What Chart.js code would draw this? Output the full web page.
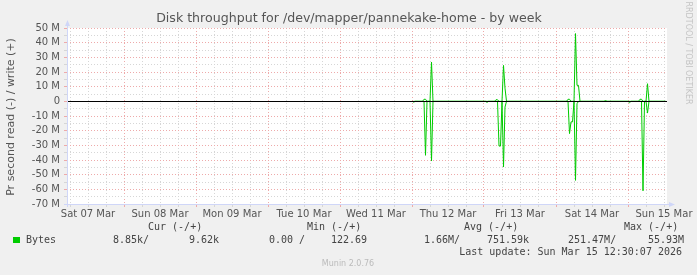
<!DOCTYPE html>
<html>
<head>
<meta charset="utf-8">
<script src="https://cdn.jsdelivr.net/npm/chart.js@4.4.1/dist/chart.umd.min.js"></script>
<style>
html, body { margin: 0; padding: 0; background: #f0f0f0; }
canvas { display: block; }
</style>
</head>
<body>
<canvas id="diskChart" width="697" height="275"></canvas>
<script>
// hours since Sat 07 Mar 00:00, values in MB/s (read drawn negative)
const hours = [120.5, 121, 123.5, 124, 124.5, 125, 126, 126.5, 127,
    144.5, 145, 145.5, 147.5, 148, 148.5, 149, 149.5, 150, 150.5, 151, 151.5,
    171.5, 172, 172.5, 173, 173.5, 174, 174.5, 175, 175.5, 176,
    184, 184.5, 185, 192, 192.5, 193, 195.5, 196, 196.5, 197, 197.5, 198, 198.5, 199, 204.5];
const readMB = [-0.8, 0, 0, 0, -36.8, 0, 0, -40.7, 0,
    0, -0.7, 0, 0, 0, 0, -30.5, -30.5, 0, -44.8, -3.9, 0,
    0, 0, -22, -14, -14, 0, -53.9, -1.6, 0, 0,
    0, 0, 0, 0, -0.9, 0, 0, 0, 0, -61, 0, 0, -8, 0, 0];
const writeMB = [0, 0, 0, 1.4, 1.4, 0, 0, 26.8, 0,
    0, 0, 0, 0, 1.1, 1.1, 0, 0, 0, 24.5, 9, 0,
    0, 1.4, 1.4, 0, 0, 0, 46.2, 10.9, 10.9, 0,
    0, 0.5, 0, 0, 0, 0, 0, 1.4, 1.4, 0, 0, 0, 12, 0, 0];

const dayLabels = ['Sat 07 Mar', 'Sun 08 Mar', 'Mon 09 Mar', 'Tue 10 Mar', 'Wed 11 Mar',
    'Thu 12 Mar', 'Fri 13 Mar', 'Sat 14 Mar', 'Sun 15 Mar'];

const legendHeads = ['Cur (-/+)', 'Min (-/+)', 'Avg (-/+)', 'Max (-/+)'];
const legendValues = ['8.85k/', '9.62k', '0.00 /', '122.69', '1.66M/', '751.59k', '251.47M/', '55.93M'];

const MGRID = '#eeaaaa';
const GRID = '#d6d6d6';
const FONT = '#555555';
const AXIS = '#cfd6f8';

const toPoints = vals => hours.map((h, i) => ({ x: h, y: vals[i] }));

const muninDecor = {
    id: 'muninDecor',
    beforeDraw(chart) {
        const ctx = chart.ctx;
        const a = chart.chartArea;
        ctx.save();
        ctx.fillStyle = '#f0f0f0';
        ctx.fillRect(0, 0, chart.width, chart.height);
        ctx.fillStyle = '#ffffff';
        ctx.fillRect(a.left, a.top, a.right - a.left, a.bottom - a.top);
        ctx.restore();
    },
    afterDatasetsDraw(chart) {
        const ctx = chart.ctx;
        const a = chart.chartArea;
        const y0 = Math.round(chart.scales.y.getPixelForValue(0)) + 0.5;
        ctx.save();

        // zero rule
        ctx.strokeStyle = '#000000';
        ctx.lineWidth = 1;
        ctx.beginPath();
        ctx.moveTo(a.left, y0);
        ctx.lineTo(a.right, y0);
        ctx.stroke();

        // axes with arrows
        ctx.strokeStyle = AXIS;
        ctx.fillStyle = AXIS;
        ctx.beginPath();
        ctx.moveTo(a.left + 0.5, a.bottom + 3);
        ctx.lineTo(a.left + 0.5, a.top - 4);
        ctx.moveTo(a.left - 3, a.bottom + 0.5);
        ctx.lineTo(a.right + 4, a.bottom + 0.5);
        ctx.stroke();
        ctx.beginPath();
        ctx.moveTo(a.left + 0.5, a.top - 8);
        ctx.lineTo(a.left - 2, a.top - 2);
        ctx.lineTo(a.left + 3, a.top - 2);
        ctx.closePath();
        ctx.fill();
        ctx.beginPath();
        ctx.moveTo(a.right + 8, a.bottom + 0.5);
        ctx.lineTo(a.right + 2, a.bottom - 2);
        ctx.lineTo(a.right + 2, a.bottom + 3);
        ctx.closePath();
        ctx.fill();

        // title
        ctx.fillStyle = FONT;
        ctx.font = '12.6px "DejaVu Sans"';
        ctx.textAlign = 'center';
        ctx.textBaseline = 'middle';
        ctx.fillText('Disk throughput for /dev/mapper/pannekake-home - by week', 349, 19);

        // vertical axis title
        ctx.save();
        ctx.translate(11, 117);
        ctx.rotate(-Math.PI / 2);
        ctx.font = '11px "DejaVu Sans"';
        ctx.fillText('Pr second read (-) / write (+)', 0, 0);
        ctx.restore();

        // rrdtool watermark
        ctx.save();
        ctx.translate(688, 53);
        ctx.rotate(Math.PI / 2);
        ctx.fillStyle = '#c4c4c4';
        ctx.font = '8px "DejaVu Sans"';
        ctx.fillText('RRDTOOL / TOBI OETIKER', 0, 0);
        ctx.restore();

        // legend
        ctx.font = '10px "DejaVu Sans Mono"';
        ctx.textAlign = 'left';
        ctx.fillStyle = '#444444';
        const headX = [148, 307, 464, 624];
        legendHeads.forEach((t, i) => ctx.fillText(t, headX[i], 227));
        ctx.fillText('Bytes', 26, 240);
        const valX = [113, 189, 269, 331, 424, 487, 568, 648];
        legendValues.forEach((t, i) => ctx.fillText(t, valX[i], 240));
        ctx.textAlign = 'right';
        ctx.fillText('Last update: Sun Mar 15 12:30:07 2026', 682, 252);
        ctx.fillStyle = '#00cc00';
        ctx.fillRect(13, 237, 7, 6);

        ctx.textAlign = 'center';
        ctx.fillStyle = '#bbbbbb';
        ctx.font = '8px "DejaVu Sans"';
        ctx.fillText('Munin 2.0.76', 348, 264);
        ctx.restore();
    }
};

const config = {
    type: 'line',
    data: {
        datasets: [{
            label: 'read',
            data: toPoints(readMB),
            borderColor: '#00cc00',
            borderWidth: 1,
            pointRadius: 0,
            tension: 0,
            fill: false
        }, {
            label: 'write',
            data: toPoints(writeMB),
            borderColor: '#00cc00',
            borderWidth: 1,
            pointRadius: 0,
            tension: 0,
            fill: false
        }]
    },
    options: {
        responsive: false,
        animation: false,
        devicePixelRatio: 1,
        layout: { padding: { left: 0, right: 30, top: 28, bottom: 0 } },
        plugins: {
            legend: { display: false },
            title: { display: false },
            tooltip: { enabled: false }
        },
        scales: {
            x: {
                type: 'linear',
                min: 5,
                max: 205,
                afterBuildTicks: s => {
                    s.ticks = [];
                    for (let v = 6; v <= 204; v += 6) s.ticks.push({ value: v });
                },
                afterFit: s => { s.height = 71; },
                grid: {
                    color: c => (c.tick && c.tick.value % 24 === 0) ? MGRID : GRID,
                    lineWidth: 1,
                    tickLength: 3,
                    borderDash: [1, 2]
                },
                border: { display: false, dash: [1, 2] },
                ticks: {
                    autoSkip: false,
                    maxRotation: 0,
                    padding: 1,
                    color: FONT,
                    font: { family: 'DejaVu Sans', size: 10 },
                    callback: v => v % 24 === 12 ? dayLabels[(v - 12) / 24] : ''
                }
            },
            y: {
                min: -70,
                max: 50,
                afterBuildTicks: s => {
                    s.ticks = [];
                    for (let v = -70; v <= 50; v += 5) s.ticks.push({ value: v });
                },
                afterFit: s => { s.width = 67; },
                grid: {
                    color: c => (c.tick && c.tick.value % 10 === 0) ? MGRID : GRID,
                    lineWidth: 1,
                    tickLength: 3,
                    borderDash: [1, 2]
                },
                border: { display: false, dash: [1, 2] },
                ticks: {
                    autoSkip: false,
                    padding: 4,
                    color: FONT,
                    font: { family: 'DejaVu Sans', size: 10 },
                    callback: v => v % 10 !== 0 ? '' : (v === 0 ? '0' : v + ' M')
                }
            }
        }
    },
    plugins: [muninDecor]
};

const ctx = document.getElementById('diskChart').getContext('2d');
const diskChart = new Chart(ctx, config);
</script>
</body>
</html>
